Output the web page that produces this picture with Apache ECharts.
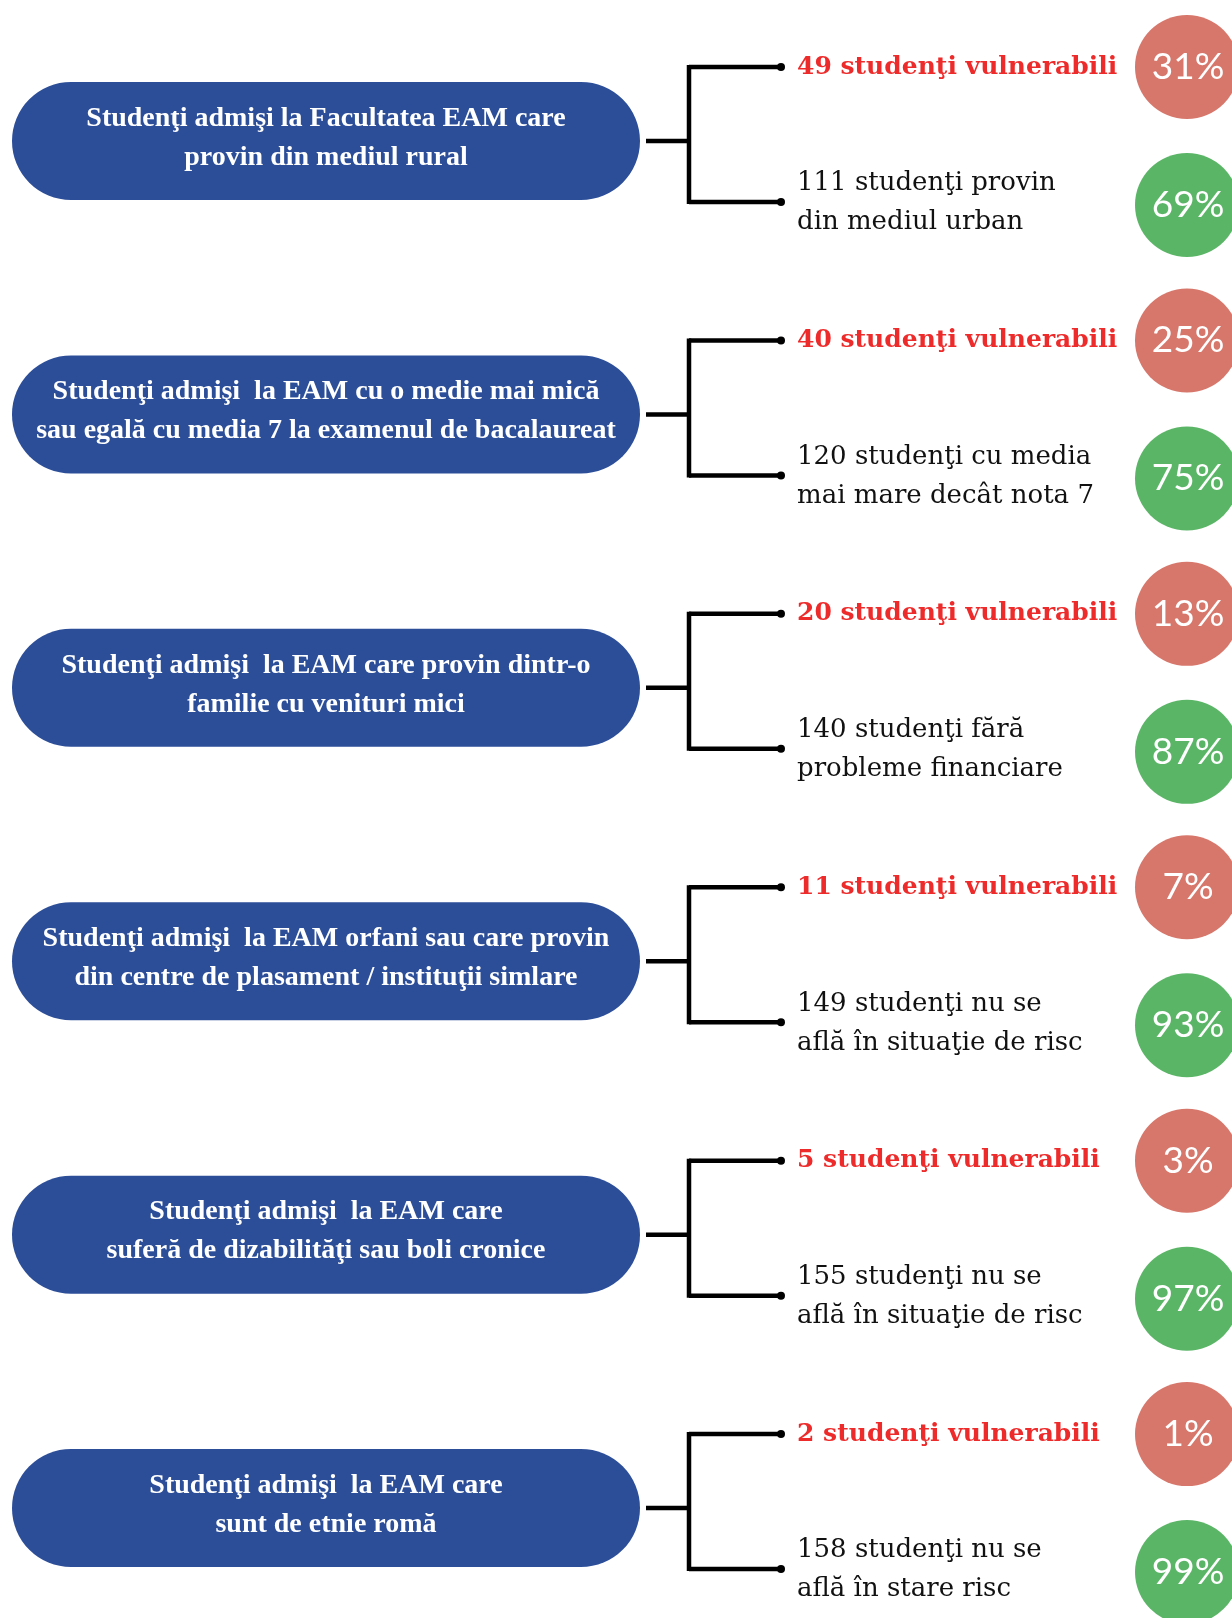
<!DOCTYPE html>
<html>
<head>
<meta charset="utf-8">
<script src="https://cdn.jsdelivr.net/npm/echarts@6/dist/echarts.min.js"></script>
<style>
  html, body { margin: 0; padding: 0; background: #fff; }
  #main { width: 1232px; height: 1618px; }
</style>
</head>
<body>
<div id="main"></div>
<script>
// categorii (textul din pastile)
var groups = [
    'Studenţi admişi la Facultatea EAM care\nprovin din mediul rural',
    'Studenţi admişi  la EAM cu o medie mai mică\nsau egală cu media 7 la examenul de bacalaureat',
    'Studenţi admişi  la EAM care provin dintr-o\nfamilie cu venituri mici',
    'Studenţi admişi  la EAM orfani sau care provin\ndin centre de plasament / instituţii simlare',
    'Studenţi admişi  la EAM care\nsuferă de dizabilităţi sau boli cronice',
    'Studenţi admişi  la EAM care\nsunt de etnie romă'
];
// numar studenti vulnerabili / ceilalti
var vulnerable = [49, 40, 20, 11, 5, 2];
var others = [111, 120, 140, 149, 155, 158];
var vulnPct = [31, 25, 13, 7, 3, 1];
var otherPct = [69, 75, 87, 93, 97, 99];
var otherLabels = [
    'studenţi provin\ndin mediul urban',
    'studenţi cu media\nmai mare decât nota 7',
    'studenţi fără\nprobleme financiare',
    'studenţi nu se\naflă în situaţie de risc',
    'studenţi nu se\naflă în situaţie de risc',
    'studenţi nu se\naflă în stare risc'
];

var chart = echarts.init(document.getElementById('main'));

var BLUE = '#2c4e99', RED_TXT = '#ee2b2b', RED = '#d7766a', GREEN = '#5bb567';

//deseneaza un rand: pastila, conector, texte, cercuri
function renderRow(params, api) {
    var i = api.value(0);
    var c = api.coord([0, i]);
    var cy = c[1];
    var x = function (v) { return api.coord([v, i])[0]; };
    var topY = cy - 74, botY = cy + 61;
    var line = { stroke: '#000', lineWidth: 4.5, lineCap: 'butt' };
    return {
        type: 'group',
        children: [
            { type: 'rect', shape: { x: x(12), y: cy - 59, width: x(640) - x(12), height: 118, r: 59 },
              style: { fill: BLUE } },
            { type: 'text', x: x(326), y: cy - 3,
              style: { text: groups[i], fill: '#fff', align: 'center', verticalAlign: 'middle',
                       font: 'bold 28px "Liberation Serif"', lineHeight: 39 } },
            { type: 'line', shape: { x1: x(646), y1: cy, x2: x(689), y2: cy }, style: line },
            { type: 'line', shape: { x1: x(689), y1: topY - 2, x2: x(689), y2: botY + 2 }, style: line },
            { type: 'line', shape: { x1: x(689), y1: topY, x2: x(781), y2: topY }, style: line },
            { type: 'line', shape: { x1: x(689), y1: botY, x2: x(781), y2: botY }, style: line },
            { type: 'circle', shape: { cx: x(781), cy: topY, r: 4 }, style: { fill: '#000' } },
            { type: 'circle', shape: { cx: x(781), cy: botY, r: 4 }, style: { fill: '#000' } },
            { type: 'text', x: x(797), y: topY,
              style: { text: vulnerable[i] + ' studenţi vulnerabili', fill: RED_TXT, verticalAlign: 'middle',
                       font: 'bold 25px "DejaVu Serif"' } },
            { type: 'text', x: x(797), y: cy + 62,
              style: { text: others[i] + ' ' + otherLabels[i], fill: '#111', verticalAlign: 'middle',
                       font: '26px "DejaVu Serif"', lineHeight: 39 } },
            { type: 'circle', shape: { cx: x(1187), cy: cy - 74, r: 52 }, style: { fill: RED } },
            { type: 'text', x: x(1188), y: cy - 74,
              style: { text: vulnPct[i] + '%', fill: '#fff', align: 'center', verticalAlign: 'middle',
                       font: '37px Lato' } },
            { type: 'circle', shape: { cx: x(1187), cy: cy + 64, r: 52 }, style: { fill: GREEN } },
            { type: 'text', x: x(1188), y: cy + 64,
              style: { text: otherPct[i] + '%', fill: '#fff', align: 'center', verticalAlign: 'middle',
                       font: '37px Lato' } }
        ]
    };
}

var rowIdx = groups.map(function (g, i) { return [i]; });

var option = {
    animation: false,
    grid: { left: 0, right: 0, top: 0, bottom: 0 },
    xAxis: { type: 'value', min: 0, max: 1232, show: false },
    // randul i are centrul la valoarea i (pas ~273px)
    yAxis: { type: 'value', min: -0.5157, max: 5.402, inverse: true, show: false },
    series: [{
        type: 'custom',
        renderItem: renderRow,
        encode: { y: 0 },
        data: rowIdx,
        silent: true,
        clip: false
    }]
};

chart.setOption(option);
</script>
</body>
</html>
